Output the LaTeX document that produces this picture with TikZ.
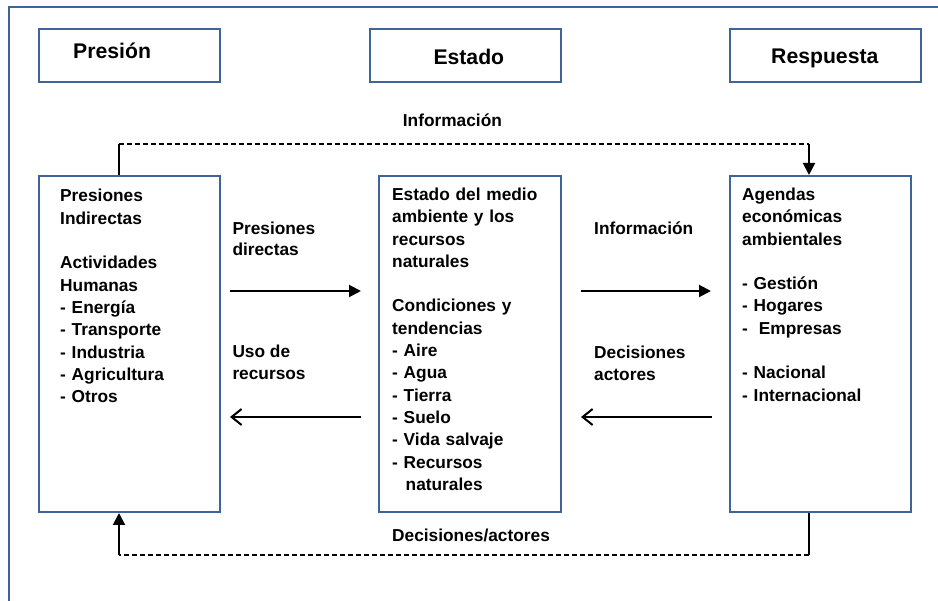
\documentclass[tikz,border=0pt]{standalone}
\usepackage{fontspec}
\setmainfont{Liberation Sans}
\usetikzlibrary{arrows.meta}
\definecolor{framec}{HTML}{3F639B}
\begin{document}
\begin{tikzpicture}[x=1pt,y=-1pt,
  box/.style={draw=framec,line width=2pt,inner sep=0pt,anchor=north west},
  txt/.style={anchor=base west,inner sep=0pt,align=left,text width=170pt,font=\fontsize{17.3}{22.3}\selectfont\bfseries},
  lbl/.style={anchor=base west,inner sep=0pt,font=\fontsize{17.3}{22.3}\selectfont\bfseries},
  hdr/.style={anchor=base west,inner sep=0pt,font=\fontsize{21.2}{25}\selectfont\bfseries},
  link/.style={line width=2pt},
  dsh/.style={line width=1.7pt,dash pattern=on 5pt off 3pt},
  fillarrow/.style={-{Triangle[length=12pt,width=12pt]}},
  openarrow/.style={-{Straight Barb[length=10pt,width=16pt,line width=2pt]}}
]
\useasboundingbox (0,0) rectangle (938,601);
% outer frame
\draw[framec,line width=1.8pt] (9,610) -- (9,7) -- (945,7);
% header boxes
\node[box,minimum width=181pt,minimum height=53pt] (hp) at (38,28) {};
\node[box,minimum width=191pt,minimum height=53pt] (he) at (369,28) {};
\node[box,minimum width=191pt,minimum height=53pt] (hr) at (729,28) {};
\node[hdr] (hpt) at (73,58.3) {Presión};
\node[hdr] (het) at (433.3,65) {Estado};
\node[hdr] (hrt) at (771,63.3) {Respuesta};
% main boxes
\node[box,minimum width=181pt,minimum height=336pt] (lb) at (38,175) {};
\node[box,minimum width=182pt,minimum height=336pt] (mb) at (378,175) {};
\node[box,minimum width=181pt,minimum height=336pt] (rb) at (729,175) {};
\node[txt] (lbt) at (60,202) {Presiones\\Indirectas\\[22.3pt]Actividades\\Humanas\\- Energía\\- Transporte\\- Industria\\- Agricultura\\- Otros};
\node[txt] (mbt) at (392,200.5) {Estado del medio\\ambiente y los\\recursos\\naturales\\[22.3pt]Condiciones y\\tendencias\\- Aire\\- Agua\\- Tierra\\- Suelo\\- Vida salvaje\\- Recursos\\\hspace*{13.5pt}naturales};
\node[txt] (rbt) at (742,200.5) {Agendas\\económicas\\ambientales\\[22.3pt]- Gestión\\- Hogares\\-\hspace*{11pt}Empresas\\[22.3pt]- Nacional\\- Internacional};
% labels
\node[lbl] (inft) at (402.7,127) {Información};
\node[lbl] (pd1) at (232.3,234.5) {Presiones};
\node[lbl] (pd2) at (232.3,256) {directas};
\node[lbl] (inf) at (594,234.5) {Información};
\node[lbl] (ur1) at (232.3,358) {Uso de};
\node[lbl] (ur2) at (232.3,380) {recursos};
\node[lbl] (da1) at (594,358.5) {Decisiones};
\node[lbl] (da2) at (594,380.5) {actores};
\node[lbl] (dab) at (392,541.5) {Decisiones/actores};
% connectors
\draw[link,fillarrow,shorten <=9pt,shorten >=17pt] (lb.east |- 0,291) -- (mb.west |- 0,291);
\draw[link,fillarrow,shorten <=19pt,shorten >=18pt] (mb.east |- 0,291) -- (rb.west |- 0,291);
\draw[link,openarrow,shorten <=17pt,shorten >=9pt] (mb.west |- 0,417) -- (lb.east |- 0,417);
\draw[link,openarrow,shorten <=17.5pt,shorten >=19pt] (rb.west |- 0,417) -- (mb.east |- 0,417);
\coordinate (tl) at (119,144);
\coordinate (tr) at (809,144);
\coordinate (bl) at (119,555);
\coordinate (br) at (809,555);
\draw[link] (lb.north -| tl) -- (tl);
\draw[dsh] (tl) -- (tr);
\draw[link,fillarrow] (tr) -- (rb.north -| tr);
\draw[link] (rb.south -| br) -- (br);
\draw[dsh] (br) -- (bl);
\draw[link,fillarrow] (bl) -- (lb.south -| bl);
\end{tikzpicture}
\end{document}
